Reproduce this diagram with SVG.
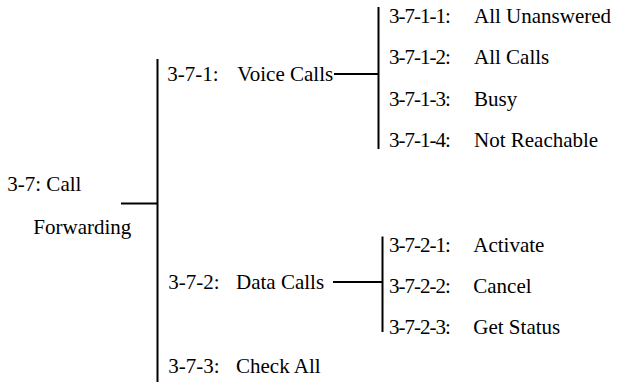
<svg xmlns="http://www.w3.org/2000/svg" width="617" height="386" viewBox="0 0 617 386">
<style>
.ln{stroke:#000;stroke-width:2;fill:none}
</style>
<rect width="617" height="386" fill="#fff"/>
<g id="connectors">
<line class="ln" x1="121" y1="203.5" x2="158" y2="203.5"/>
<line class="ln" x1="157.5" y1="59" x2="157.5" y2="382"/>
<line class="ln" x1="334" y1="74" x2="379" y2="74"/>
<line class="ln" x1="378.5" y1="7" x2="378.5" y2="149"/>
<line class="ln" x1="333" y1="282" x2="383" y2="282"/>
<line class="ln" x1="382.5" y1="236.5" x2="382.5" y2="332"/>
</g>
<g id="n-3-7">
<text x="7.3" y="190.7" style="font-family:'Liberation Serif',serif;font-size:21px">3-7: Call</text>
<text x="33.3" y="233.5" style="font-family:'Liberation Serif',serif;font-size:21px">Forwarding</text>
</g>
<g id="n-3-7-1">
<text x="167.3" y="81" style="font-family:'Liberation Serif',serif;font-size:21px">3-7-1:</text>
<text x="237.3" y="81" style="font-family:'Liberation Serif',serif;font-size:21px">Voice Calls</text>
</g>
<g id="n-3-7-1-1">
<text x="389" y="23.3" style="font-family:'Liberation Serif',serif;font-size:21px;letter-spacing:-1px">3-7-1-1:</text>
<text x="474" y="23.3" style="font-family:'Liberation Serif',serif;font-size:21px">All Unanswered</text>
</g>
<g id="n-3-7-1-2">
<text x="389" y="64.3" style="font-family:'Liberation Serif',serif;font-size:21px;letter-spacing:-1px">3-7-1-2:</text>
<text x="474" y="64.3" style="font-family:'Liberation Serif',serif;font-size:21px">All Calls</text>
</g>
<g id="n-3-7-1-3">
<text x="389" y="105.5" style="font-family:'Liberation Serif',serif;font-size:21px;letter-spacing:-1px">3-7-1-3:</text>
<text x="474" y="105.5" style="font-family:'Liberation Serif',serif;font-size:21px">Busy</text>
</g>
<g id="n-3-7-1-4">
<text x="389" y="146.7" style="font-family:'Liberation Serif',serif;font-size:21px;letter-spacing:-1px">3-7-1-4:</text>
<text x="474" y="146.7" style="font-family:'Liberation Serif',serif;font-size:21px">Not Reachable</text>
</g>
<g id="n-3-7-2">
<text x="168.3" y="289" style="font-family:'Liberation Serif',serif;font-size:21px">3-7-2:</text>
<text x="236" y="289" style="font-family:'Liberation Serif',serif;font-size:21px">Data Calls</text>
</g>
<g id="n-3-7-2-1">
<text x="389" y="251.7" style="font-family:'Liberation Serif',serif;font-size:21px;letter-spacing:-1px">3-7-2-1:</text>
<text x="473.3" y="251.7" style="font-family:'Liberation Serif',serif;font-size:21px">Activate</text>
</g>
<g id="n-3-7-2-2">
<text x="389" y="293.3" style="font-family:'Liberation Serif',serif;font-size:21px;letter-spacing:-1px">3-7-2-2:</text>
<text x="473.3" y="293.3" style="font-family:'Liberation Serif',serif;font-size:21px">Cancel</text>
</g>
<g id="n-3-7-2-3">
<text x="389" y="334" style="font-family:'Liberation Serif',serif;font-size:21px;letter-spacing:-1px">3-7-2-3:</text>
<text x="473.3" y="334" style="font-family:'Liberation Serif',serif;font-size:21px">Get Status</text>
</g>
<g id="n-3-7-3">
<text x="168.3" y="373.3" style="font-family:'Liberation Serif',serif;font-size:21px">3-7-3:</text>
<text x="236" y="373.3" style="font-family:'Liberation Serif',serif;font-size:21px">Check All</text>
</g>
</svg>
